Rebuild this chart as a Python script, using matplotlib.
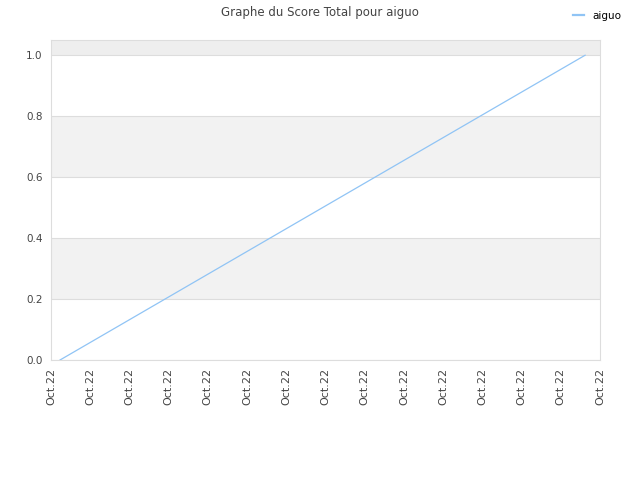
import matplotlib
matplotlib.use('Agg')
import matplotlib.pyplot as plt

# data
x_vals = [0.23, 13.62]
scores = [0.0, 1.0]
tick_pos = list(range(15))
tick_labels = ['Oct.22'] * 15
y_ticks = [0.0, 0.2, 0.4, 0.6, 0.8, 1.0]

fig = plt.figure(figsize=(6.4, 4.8), dpi=100)
ax = fig.add_axes([51 / 640, 1 - 360 / 480, 549 / 640, 320 / 480])

# alternating background bands
ax.axhspan(1.0, 1.05, color='#eeeeee', zorder=0, lw=0)
ax.axhspan(0.6, 0.8, color='#f2f2f2', zorder=0, lw=0)
ax.axhspan(0.2, 0.4, color='#f2f2f2', zorder=0, lw=0)
for y in y_ticks:
    ax.axhline(y, color='#dddddd', linewidth=0.8, zorder=1)

ax.plot(x_vals, scores, color='#90c4f5', linewidth=0.9, label='aiguo', zorder=3)

ax.set_xlim(0, 14)
ax.set_ylim(0, 1.05)
ax.set_xticks(tick_pos)
ax.set_xticklabels(tick_labels, rotation=90, fontsize=8, color='#444444')
ax.set_yticks(y_ticks)
ax.set_yticklabels([f'{v:.1f}' for v in y_ticks], fontsize=7.5, color='#444444')
ax.tick_params(length=0, pad=6)
for s in ax.spines.values():
    s.set_color('#dddddd')

fig.text(0.5, 0.988, 'Graphe du Score Total pour aiguo', ha='center', va='top',
         fontsize=8.5, color='#444444')
leg = fig.legend(loc='upper right', bbox_to_anchor=(0.985, 0.997), frameon=False,
                 fontsize=7.5, handlelength=1.0)
for h in leg.get_lines():
    h.set_linewidth(1.6)

fig.savefig('out.png', dpi=100)
